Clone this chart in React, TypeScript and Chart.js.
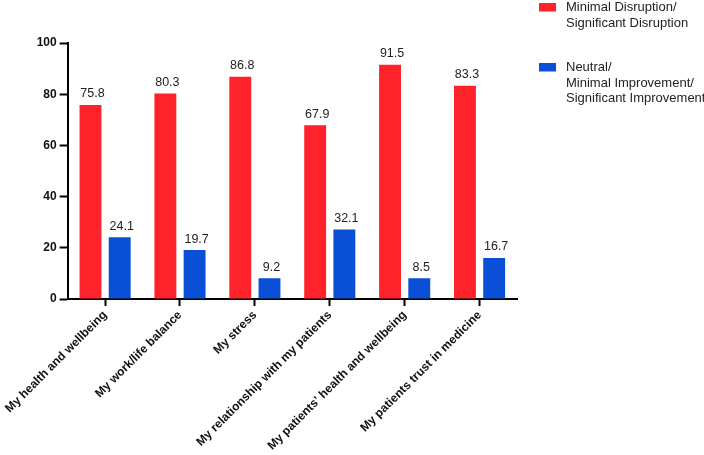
import React, { useEffect, useRef } from "react";
import { Chart, registerables } from "chart.js";

Chart.register(...registerables);

const categories = [
  "My health and wellbeing",
  "My work/life balance",
  "My stress",
  "My relationship with my patients",
  "My patients’ health and wellbeing",
  "My patients trust in medicine",
];
const seriesNames = [
  ["Minimal Disruption/", "Significant Disruption"],
  ["Neutral/", "Minimal Improvement/", "Significant Improvement"],
];
const disruptionValues = [75.8, 80.3, 86.8, 67.9, 91.5, 83.3];
const disruptionLabels = ["75.8", "80.3", "86.8", "67.9", "91.5", "83.3"];
const improvementValues = [24.1, 19.1, 8.1, 27.1, 8.1, 16.0];
const improvementLabels = ["24.1", "19.7", "9.2", "32.1", "8.5", "16.7"];
const yTicks = [0, 20, 40, 60, 80, 100];

const RED = "rgb(254,34,42)";
const BLUE = "rgb(10,80,214)";
const FONT = "'Liberation Sans', Arial, Helvetica, sans-serif";

const valueLabelPlugin = {
  id: "valueLabels",
  afterDatasetsDraw(chart: any) {
    const ctx = chart.ctx;
    const allLabels = [disruptionLabels, improvementLabels];
    ctx.save();
    ctx.font = `12.5px ${FONT}`;
    ctx.fillStyle = "#222";
    ctx.textAlign = "center";
    ctx.textBaseline = "middle";
    chart.data.datasets.forEach((_: any, di: number) => {
      const meta = chart.getDatasetMeta(di);
      meta.data.forEach((el: any, i: number) => {
        ctx.fillText(allLabels[di][i], el.x + 2, el.y - 11);
      });
    });
    ctx.restore();
  },
};

const customLegendPlugin = {
  id: "customLegend",
  afterDraw(chart: any) {
    const ctx = chart.ctx;
    const tops = [3, 63];
    ctx.save();
    ctx.font = `13px ${FONT}`;
    ctx.textBaseline = "middle";
    ctx.textAlign = "left";
    chart.data.datasets.forEach((ds: any, di: number) => {
      const top = tops[di];
      ctx.fillStyle = ds.backgroundColor;
      ctx.fillRect(539, top, 17, 8.5);
      ctx.fillStyle = "#222";
      const lines: string[] = ds.legendLines;
      lines.forEach((line, li) => {
        ctx.fillText(line, 566, top + 4.5 + li * 15.7);
      });
    });
    ctx.restore();
  },
};

export default function App() {
  const canvasRef = useRef<HTMLCanvasElement | null>(null);

  useEffect(() => {
    document.body.style.margin = "0";
    const canvas = canvasRef.current;
    if (!canvas) return;
    const chart = new Chart(canvas, {
      type: "bar",
      data: {
        labels: categories,
        datasets: [
          {
            label: seriesNames[0].join(" "),
            legendLines: seriesNames[0],
            data: disruptionValues,
            backgroundColor: RED,
            categoryPercentage: 0.78,
            barPercentage: 0.75,
          } as any,
          {
            label: seriesNames[1].join(" "),
            legendLines: seriesNames[1],
            data: improvementValues,
            backgroundColor: BLUE,
            categoryPercentage: 0.78,
            barPercentage: 0.75,
          } as any,
        ],
      },
      options: {
        responsive: false,
        animation: false,
        layout: { padding: { top: 43, right: 187, left: 0, bottom: 0 } },
        plugins: {
          legend: { display: false },
          tooltip: { enabled: false },
        },
        scales: {
          x: {
            grid: {
              display: true,
              drawOnChartArea: false,
              drawTicks: true,
              offset: false,
              tickLength: 7,
              tickWidth: 2,
              tickColor: "#000",
            },
            border: { display: true, color: "#000", width: 2 },
            ticks: {
              color: "#111",
              font: { family: FONT, size: 12, weight: "bold" },
              maxRotation: 45,
              minRotation: 45,
              autoSkip: false,
              padding: 2,
            },
            afterFit(scale: any) {
              scale.height = 156;
            },
          },
          y: {
            min: 0,
            max: 100,
            afterBuildTicks(scale: any) {
              scale.ticks = yTicks.map((v) => ({ value: v }));
            },
            grid: {
              display: true,
              drawOnChartArea: false,
              drawTicks: true,
              tickLength: 8,
              tickWidth: 2,
              tickColor: "#000",
            },
            border: { display: true, color: "#000", width: 2 },
            ticks: {
              color: "#111",
              font: { family: FONT, size: 12, weight: "bold" },
              padding: 3,
            },
            afterFit(scale: any) {
              scale.width = 66;
            },
          },
        },
      },
      plugins: [valueLabelPlugin, customLegendPlugin],
    });
    return () => chart.destroy();
  }, []);

  return (
    <div style={{ width: 704, height: 455, background: "#fff" }}>
      <canvas ref={canvasRef} width={704} height={455} />
    </div>
  );
}
